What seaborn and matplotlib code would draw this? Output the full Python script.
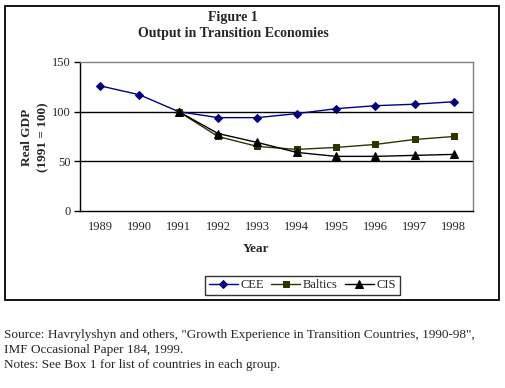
import matplotlib
matplotlib.use("Agg")
import matplotlib.pyplot as plt
import seaborn as sns
import pandas as pd
import numpy as np
from matplotlib.patches import Rectangle
from matplotlib.ticker import FixedLocator

years = [1989, 1990, 1991, 1992, 1993, 1994, 1995, 1996, 1997, 1998]
cee = [126, 117, 100, 94, 94, 98, 103, 106, 107.5, 110]
baltics = [None, None, 100, 75, 65, 62, 64, 67, 72, 75]
cis = [None, None, 100, 78, 69, 59, 55, 55, 56, 57]

series_names = ["CEE", "Baltics", "CIS"]

rows = []
for name, vals in zip(series_names, [cee, baltics, cis]):
    for y, v in zip(years, vals):
        if v is not None:
            rows.append({"Year": y, "Value": v, "Group": name})
df = pd.DataFrame(rows)

sns.set_style("white")
plt.rcParams['font.family'] = ['Liberation Serif', 'DejaVu Serif']

W, H = 506, 388
fig = plt.figure(figsize=(W / 100, H / 100), dpi=100)
ax = fig.add_axes([80.5 / W, 1 - 211 / H, 393 / W, 149 / H])

palette = {"CEE": "#000080", "Baltics": "#333300", "CIS": "#000000"}
markers = {"CEE": "D", "Baltics": "s", "CIS": "^"}
sizes = {"CEE": 4.2, "Baltics": 4.8, "CIS": 5.5}

for name in series_names:
    sub = df[df["Group"] == name]
    sns.lineplot(data=sub, x="Year", y="Value", ax=ax, color=palette[name],
                 marker=markers[name], markersize=sizes[name], linewidth=1,
                 markeredgecolor=palette[name], markerfacecolor=palette[name],
                 label=name, legend=False)

ax.set_xlim(1988.5, 1998.5)
ax.set_ylim(0, 150)
ax.set_yticks([0, 50, 100, 150])
ax.set_yticklabels(["0", "50", "100", "150"], fontsize=9)
ax.set_xticks(years)
ax.set_xticklabels([str(y) for y in years], fontsize=9)
ax.xaxis.set_minor_locator(FixedLocator(np.arange(1988.5, 1999, 1.0)))
ax.tick_params(axis='x', which='major', length=0, pad=7)
ax.tick_params(axis='x', which='minor', length=4, width=1, color='black', direction='out')
ax.tick_params(axis='y', which='major', length=4, width=1, color='black', direction='out', pad=3, left=True)

for v in [50, 100]:
    ax.axhline(v, color='black', linewidth=1, zorder=0)

for s in ['top', 'right']:
    ax.spines[s].set_color('#808080')
    ax.spines[s].set_linewidth(1)
for s in ['left', 'bottom']:
    ax.spines[s].set_color('black')
    ax.spines[s].set_linewidth(1)

ax.set_xlabel("")
ax.set_ylabel("")

# axis titles
fig.text(256 / W, 1 - 249 / H, "Year", ha='center', va='center', fontsize=9.5, fontweight='bold')
fig.text(27 / W, 1 - 137 / H, "Real GDP", ha='center', va='center', fontsize=9.5,
         fontweight='bold', rotation=90)
fig.text(43 / W, 1 - 137 / H, "(1991 = 100)", ha='center', va='center', fontsize=9.5,
         fontweight='bold', rotation=90)

# chart title
fig.text(233 / W, 1 - 18 / H, "Figure 1", ha='center', va='center', fontsize=10, fontweight='bold')
fig.text(233 / W, 1 - 33 / H, "Output in Transition Economies", ha='center', va='center',
         fontsize=10, fontweight='bold')

# legend
handles, labels = ax.get_legend_handles_labels()
leg = fig.legend(handles, labels, loc='center', bbox_to_anchor=(302.5 / W, 1 - 285.5 / H),
                 ncol=3, frameon=True, fancybox=False, fontsize=9, handlelength=2.3,
                 handletextpad=0.2, columnspacing=0.6, borderpad=0.3, borderaxespad=0)
leg.get_frame().set_edgecolor('black')
leg.get_frame().set_linewidth(1)

# outer border
fig.patches.append(Rectangle((5.5 / W, 1 - 300 / H), 493.5 / W, 294 / H, transform=fig.transFigure,
                             fill=False, edgecolor='black', linewidth=1.3))

# footnotes
notes = ['Source: Havrylyshyn and others, "Growth Experience in Transition Countries, 1990-98",',
         'IMF Occasional Paper 184, 1999.',
         'Notes: See Box 1 for list of countries in each group.']
for i, t in enumerate(notes):
    fig.text(4 / W, 1 - (335 + i * 15) / H, t, ha='left', va='center', fontsize=9.5)

fig.savefig("out.png", dpi=100)
